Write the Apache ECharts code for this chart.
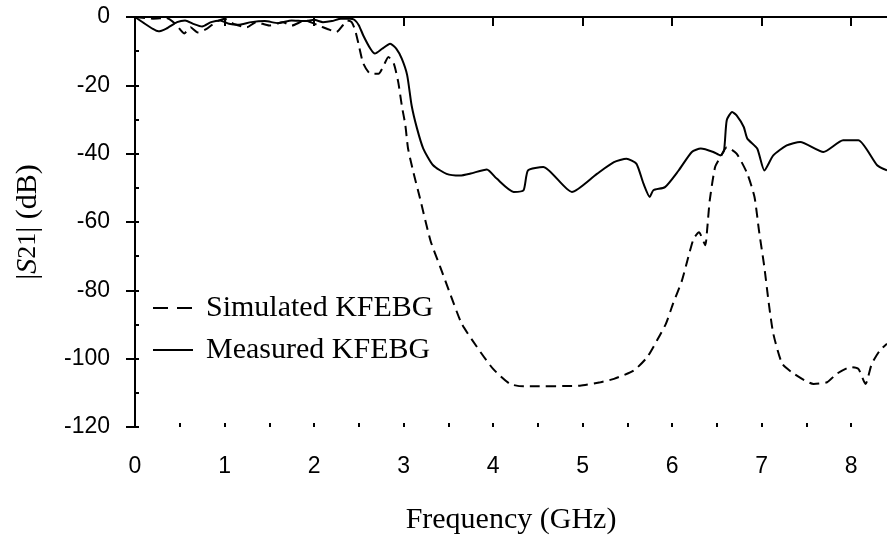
<!DOCTYPE html>
<html>
<head>
<meta charset="utf-8">
<script src="https://cdn.jsdelivr.net/npm/echarts@6/dist/echarts.min.js"></script>
<style>
  html, body { margin: 0; padding: 0; background: #fff; }
  #chart { width: 887px; height: 536px; }
</style>
</head>
<body>
<div id="chart"></div>
<script>
// measured KFEBG (solid)
var measFreq = [0, 0.1, 0.2, 0.26, 0.35, 0.47, 0.56, 0.65, 0.75, 0.85, 0.95, 1.05, 1.15, 1.3, 1.45, 1.6, 1.75, 1.9, 2.0, 2.1, 2.2, 2.3, 2.4, 2.45, 2.5, 2.55, 2.63, 2.68, 2.76, 2.85, 2.92, 2.98, 3.04, 3.09, 3.15, 3.22, 3.33, 3.48, 3.63, 3.75, 3.93, 4.04, 4.23, 4.34, 4.39, 4.56, 4.88, 5.16, 5.35, 5.49, 5.6, 5.68, 5.75, 5.79, 5.92, 6.07, 6.22, 6.32, 6.46, 6.54, 6.58, 6.61, 6.67, 6.72, 6.8, 6.84, 6.95, 7.03, 7.13, 7.28, 7.43, 7.69, 7.91, 8.08, 8.29, 8.4];
var measDb = [0, -1.8, -3.5, -4.2, -3.4, -1.5, -1, -2, -2.8, -1.5, -1, -2, -2.3, -1.5, -1.2, -1.8, -1, -1.2, -0.8, -1.5, -1.2, -0.5, -0.5, -0.8, -2.4, -5.4, -9.3, -10.7, -9.3, -7.8, -9.3, -12.2, -17, -25.9, -32.6, -38.5, -43.4, -45.9, -46.4, -45.8, -44.6, -47.3, -51.2, -50.7, -44.9, -43.9, -51.2, -45.9, -42.5, -41.5, -42.9, -48.8, -52.7, -50.7, -49.8, -45, -39.5, -38.5, -39.5, -40.5, -39, -30.2, -27.8, -28.8, -32.2, -35.6, -38.5, -44.9, -40.5, -37.6, -36.6, -39.5, -36.1, -36.1, -43.4, -44.9];

// simulated KFEBG (dashed)
var simFreq = [0, 0.2, 0.35, 0.45, 0.55, 0.62, 0.7, 0.8, 0.9, 1.0, 1.1, 1.25, 1.35, 1.5, 1.65, 1.75, 1.9, 2.05, 2.15, 2.25, 2.32, 2.37, 2.42, 2.46, 2.5, 2.55, 2.63, 2.72, 2.78, 2.83, 2.89, 2.94, 2.98, 3.02, 3.05, 3.11, 3.18, 3.3, 3.41, 3.52, 3.65, 3.82, 4.0, 4.19, 4.34, 4.97, 5.2, 5.35, 5.57, 5.72, 5.83, 5.93, 6.01, 6.11, 6.18, 6.24, 6.3, 6.37, 6.39, 6.42, 6.48, 6.54, 6.61, 6.72, 6.84, 6.92, 6.97, 7.03, 7.08, 7.13, 7.23, 7.36, 7.58, 7.73, 7.84, 7.99, 8.08, 8.16, 8.23, 8.32, 8.4];
var simDb = [0, -0.5, -0.3, -2, -4.8, -3, -4.5, -3.5, -1.5, -0.5, -2, -3, -1.5, -2.5, -1.5, -2.5, -1, -2.5, -3.5, -4.4, -2.5, -1, -1.5, -3.9, -8.3, -13.6, -16.6, -16.6, -14.1, -11.7, -13.6, -19, -25.9, -31.7, -38.5, -45.5, -52.7, -65.4, -73.2, -81, -89.8, -96.6, -103, -107.4, -108.1, -107.9, -106.9, -105.9, -103.5, -99.6, -94.7, -89.8, -83.9, -77.1, -70.3, -64.9, -63, -66.8, -62.5, -53.7, -43.9, -41, -38.1, -40, -45.9, -52.7, -62.5, -73.2, -83.9, -92.7, -101.5, -104.4, -107.4, -106.9, -104.4, -102.5, -103, -107.4, -101.5, -97.6, -95.6];

var xTicks = [0, 1, 2, 3, 4, 5, 6, 7, 8];
var xMinorTicks = [0, 0.5, 1, 1.5, 2, 2.5, 3, 3.5, 4, 4.5, 5, 5.5, 6, 6.5, 7, 7.5, 8];
var yTicks = [-120, -100, -80, -60, -40, -20, 0];

function pairs(xs, ys) {
  return xs.map(function (x, i) { return [x, ys[i]]; });
}

var chart = echarts.init(document.getElementById('chart'));
var sans = 'Liberation Sans';
var serif = 'Liberation Serif';

var option = {
  animation: false,
  backgroundColor: '#fff',
  grid: { left: 135, right: 0, top: 17, bottom: 109, outerBoundsMode: 'none' },
  legend: {
    orient: 'vertical',
    left: 147,
    top: 288,
    itemWidth: 40,
    itemHeight: 14,
    itemGap: 12,
    itemStyle: { color: 'rgba(0,0,0,0)', borderWidth: 0 },
    textStyle: { fontFamily: serif, fontSize: 30, color: '#000', lineHeight: 30, padding: [0, 0, 0, 8] },
    data: [
      { name: 'Simulated KFEBG', lineStyle: { type: [15, 9] } },
      { name: 'Measured KFEBG' }
    ]
  },
  xAxis: [
    {
      type: 'value', min: 0, max: 8.4, position: 'bottom',
      name: 'Frequency (GHz)', nameLocation: 'middle', nameGap: 78,
      nameTextStyle: { fontFamily: serif, fontSize: 30, color: '#000' },
      axisLine: { lineStyle: { color: '#000', width: 2 } },
      axisTick: { customValues: xTicks, length: 9, lineStyle: { color: '#000', width: 2 } },
      axisLabel: { customValues: xTicks, margin: 28, fontFamily: sans, fontSize: 23, color: '#000' },
      splitLine: { show: false }
    },
    {
      // minor ticks, pointing up into the plot from the bottom edge
      type: 'value', min: 0, max: 8.4, position: 'top', offset: -410,
      axisLine: { show: false },
      axisTick: { show: true, customValues: xMinorTicks, length: 4, lineStyle: { color: '#000', width: 2 } },
      axisLabel: { show: false },
      splitLine: { show: false }
    }
  ],
  yAxis: [
    {
      type: 'value', min: -120, max: 0, interval: 20, position: 'left',
      name: '{b||}{i|S}{n|21}{b|| (dB)}', nameLocation: 'middle', nameGap: 92, nameRotate: 90,
      nameTextStyle: {
        fontFamily: serif, fontSize: 30, color: '#000',
        rich: {
          b: { fontFamily: serif, fontSize: 30, color: '#000' },
          i: { fontFamily: serif, fontSize: 30, fontStyle: 'italic', color: '#000' },
          n: { fontFamily: serif, fontSize: 26, color: '#000' }
        }
      },
      axisLine: { show: true, lineStyle: { color: '#000', width: 2 } },
      axisTick: { show: true, customValues: yTicks, length: 9, lineStyle: { color: '#000', width: 2 } },
      axisLabel: { customValues: yTicks, margin: 25, fontFamily: sans, fontSize: 23, color: '#000' },
      splitLine: { show: false }
    },
    {
      // minor ticks, inside the plot on the left edge
      type: 'value', min: -120, max: 0, interval: 10, position: 'left', offset: 0,
      axisLine: { show: false },
      axisTick: { show: true, inside: true, length: 4, lineStyle: { color: '#000', width: 2 } },
      axisLabel: { show: false },
      splitLine: { show: false }
    }
  ],
  series: [
    {
      name: 'Simulated KFEBG', type: 'line', xAxisIndex: 0, yAxisIndex: 0,
      data: pairs(simFreq, simDb), symbol: 'none', smooth: 0.2,
      itemStyle: { color: '#000' },
      lineStyle: { color: '#000', width: 2, type: [10, 6] },
      markLine: {
        silent: true, symbol: 'none', label: { show: false },
        lineStyle: { color: '#000', width: 2, type: 'solid' },
        data: [{ yAxis: 0 }]
      }
    },
    {
      name: 'Measured KFEBG', type: 'line', xAxisIndex: 0, yAxisIndex: 0,
      data: pairs(measFreq, measDb), symbol: 'none', smooth: 0.2,
      itemStyle: { color: '#000' },
      lineStyle: { color: '#000', width: 2, type: 'solid' }
    }
  ]
};

chart.setOption(option);
</script>
</body>
</html>
